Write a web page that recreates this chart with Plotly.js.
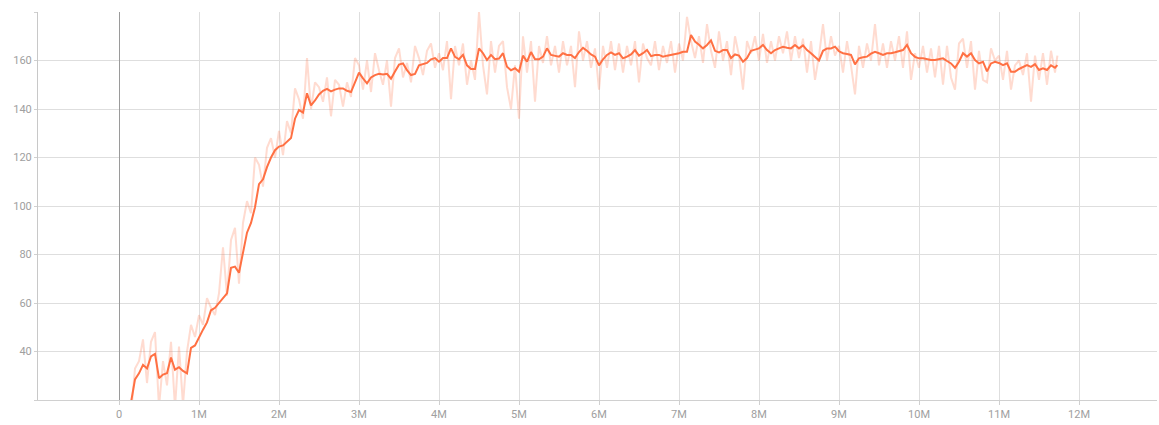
<!DOCTYPE html>
<html>
<head>
<meta charset="utf-8">
<script src="https://cdn.plot.ly/plotly-3.0.1.min.js"></script>
<style>
  html, body { margin: 0; padding: 0; background: #fff; }
  #chart { width: 1159px; height: 425px; }
</style>
</head>
<body>
<div id="chart"></div>
<script>
// Training steps, in millions
const stepsM = [
  0.15, 0.20, 0.25, 0.30, 0.35, 0.40, 0.45, 0.50, 0.55, 0.60, 0.65, 0.70, 0.75, 0.80, 0.85, 0.90, 0.95,
  1.00, 1.05, 1.10, 1.15, 1.20, 1.25, 1.30, 1.35, 1.40, 1.45, 1.50, 1.55, 1.60, 1.65, 1.70, 1.75, 1.80, 1.85, 1.90, 1.95,
  2.00, 2.05, 2.10, 2.15, 2.20, 2.25, 2.30, 2.35, 2.40, 2.45, 2.50, 2.55, 2.60, 2.65, 2.70, 2.75, 2.80, 2.85, 2.90, 2.95,
  3.00, 3.05, 3.10, 3.15, 3.20, 3.25, 3.30, 3.35, 3.40, 3.45, 3.50, 3.55, 3.60, 3.65, 3.70, 3.75, 3.80, 3.85, 3.90, 3.95,
  4.00, 4.05, 4.10, 4.15, 4.20, 4.25, 4.30, 4.35, 4.40, 4.45, 4.50, 4.55, 4.60, 4.65, 4.70, 4.75, 4.80, 4.85, 4.90, 4.95,
  5.00, 5.05, 5.10, 5.15, 5.20, 5.25, 5.30, 5.35, 5.40, 5.45, 5.50, 5.55, 5.60, 5.65, 5.70, 5.75, 5.80, 5.85, 5.90, 5.95,
  6.00, 6.05, 6.10, 6.15, 6.20, 6.25, 6.30, 6.35, 6.40, 6.45, 6.50, 6.55, 6.60, 6.65, 6.70, 6.75, 6.80, 6.85, 6.90, 6.95,
  7.00, 7.05, 7.10, 7.15, 7.20, 7.25, 7.30, 7.35, 7.40, 7.45, 7.50, 7.55, 7.60, 7.65, 7.70, 7.75, 7.80, 7.85, 7.90, 7.95,
  8.00, 8.05, 8.10, 8.15, 8.20, 8.25, 8.30, 8.35, 8.40, 8.45, 8.50, 8.55, 8.60, 8.65, 8.70, 8.75, 8.80, 8.85, 8.90, 8.95,
  9.00, 9.05, 9.10, 9.15, 9.20, 9.25, 9.30, 9.35, 9.40, 9.45, 9.50, 9.55, 9.60, 9.65, 9.70, 9.75, 9.80, 9.85, 9.90, 9.95,
  10.00, 10.05, 10.10, 10.15, 10.20, 10.25, 10.30, 10.35, 10.40, 10.45, 10.50, 10.55, 10.60, 10.65, 10.70, 10.75, 10.80, 10.85, 10.90, 10.95,
  11.00, 11.05, 11.10, 11.15, 11.20, 11.25, 11.30, 11.35, 11.40, 11.45, 11.50, 11.55, 11.60, 11.65, 11.70, 11.73
];

// Raw episode reward
const rawReward = [
  14, 33, 36, 45, 27, 44, 48, 17, 36, 26, 44, 17, 42, 18, 40, 51, 46,
  55, 51, 62, 58, 55, 64, 83, 63, 86, 91, 68, 93, 102, 97, 120, 117, 108, 124, 128, 120,
  131, 121, 135, 130, 148.5, 144, 136, 161, 140, 151, 149, 143, 153, 137, 152, 150, 141, 151, 145, 161,
  158, 148, 160, 147, 163, 156, 150, 160, 141, 161, 165, 153, 159, 151, 166, 161, 154, 164, 167, 157,
  163, 156, 168, 144, 166, 158, 167, 150, 160, 152, 180, 158, 146, 168, 155, 166, 168, 149, 140, 158,
  136, 170, 155, 168, 143, 166, 159, 170, 158, 166, 155, 168, 158, 166, 149, 172, 160, 168, 157, 165,
  148, 166, 157, 168, 156, 167, 155, 166, 158, 168, 151, 167, 161, 158, 168, 156, 166, 159, 168, 155,
  167, 160, 178, 168, 161, 170, 159, 175, 164, 157, 172, 160, 168, 154, 170, 162, 148, 168, 163, 170,
  160, 171, 159, 168, 160, 170, 163, 172, 160, 170, 161, 169, 155, 168, 152, 162, 175, 160, 170, 162,
  166, 155, 168, 158, 146, 166, 157, 167, 160, 175, 158, 167, 157, 168, 160, 170, 157, 172, 152, 163,
  157, 166, 155, 165, 153, 166, 150, 166, 153, 148, 167, 169, 157, 168, 148, 164, 152, 151, 165, 160,
  162, 152, 164, 148, 158, 160, 154, 163, 143, 162, 152, 163, 150, 164, 155, 162
];

// Smoothed episode reward
const smoothReward = [
  19, 28.5, 31, 34.5, 33, 38, 39, 29, 30.5, 31, 37.5, 32.5, 33.5, 32, 31, 41.5, 42.5,
  46, 49, 52, 57, 58, 60, 62, 64, 74.5, 75, 72.5, 81, 89, 93, 99.5, 109, 111, 116, 120, 123,
  124.5, 125, 126.5, 128, 136, 139.6, 138.5, 146.5, 141.5, 143.5, 146, 147.5, 148.3, 147.3, 148, 148.5, 148.5, 147.5, 147, 151,
  155, 152.6, 150.6, 153, 154, 154.5, 154.2, 154.5, 152.5, 155.5, 158.3, 158.8, 156, 154, 154.5, 158, 158.5, 159, 160.5, 161,
  159.5, 161, 161, 165, 161.5, 160.5, 162.3, 158, 156.5, 156.5, 165, 163, 160.2, 162.3, 160.5, 160.8, 163, 157.4, 156, 156.8,
  155.4, 162, 159.5, 163.5, 160.5, 160.5, 161.6, 165, 162.3, 162, 161.6, 163, 162.3, 162.3, 161, 163.5, 165.2, 164, 162.5, 161.6,
  158, 160.5, 162.3, 163.3, 162.3, 163, 160.9, 161.6, 162.5, 164.3, 162, 163, 164.3, 161.8, 162.3, 162.3, 161.6, 162, 162.3, 162.8,
  163, 163.6, 163.6, 170.5, 167.8, 166.5, 165, 166.4, 168.3, 164, 163.3, 164.3, 164.3, 161, 162.5, 162, 159.5, 161, 164, 164.5,
  165, 166.4, 164.3, 163, 164.3, 165, 165.7, 165.3, 165, 166.4, 165, 166.2, 164.3, 163, 161.5, 160, 164, 165, 165, 165.7,
  163.8, 163, 162.7, 162.3, 158.4, 160.9, 161.3, 161.6, 162.8, 163.6, 163, 162.3, 163, 163, 163.4, 164, 164.3, 166.4, 163, 161.5,
  160.9, 160.9, 160.5, 160.2, 160.2, 160.5, 160.9, 159.8, 158.8, 157, 159.5, 163, 161.6, 163, 160.2, 158.8, 159.5, 155.5, 158.8, 159.5,
  159, 158.1, 158.8, 155.4, 155.4, 156.5, 157.4, 158.1, 157.4, 158.5, 156.1, 156.8, 156.1, 158, 157, 158.1
];

const xTicks = [0, 1e6, 2e6, 3e6, 4e6, 5e6, 6e6, 7e6, 8e6, 9e6, 10e6, 11e6, 12e6];
const xTickLabels = ['0', '1M', '2M', '3M', '4M', '5M', '6M', '7M', '8M', '9M', '10M', '11M', '12M'];
const yTicks = [20, 40, 60, 80, 100, 120, 140, 160, 180];
const yTickLabels = ['', '40', '60', '80', '100', '120', '140', '160', ''];

const steps = stepsM.map(s => s * 1e6);
const accent = '#ff7043';

const traces = [
  {
    x: steps, y: rawReward, type: 'scatter', mode: 'lines',
    line: { color: 'rgba(255,112,67,0.25)', width: 2 },
    hoverinfo: 'skip', showlegend: false
  },
  {
    x: steps, y: smoothReward, type: 'scatter', mode: 'lines',
    line: { color: accent, width: 2 },
    hoverinfo: 'skip', showlegend: false
  }
];

const tickFont = { family: 'Roboto, "Open Sans", sans-serif', size: 11, color: '#a0a0a0' };

const layout = {
  width: 1159, height: 425,
  margin: { l: 38, r: 2, t: 12, b: 25, pad: 0 },
  paper_bgcolor: '#fff', plot_bgcolor: '#fff',
  showlegend: false,
  hovermode: false,
  xaxis: {
    range: [-1.0125e6, 12.975e6],
    tickvals: xTicks, ticktext: xTickLabels,
    showgrid: true, gridcolor: '#dedede', gridwidth: 1,
    zeroline: true, zerolinecolor: '#9a9a9a', zerolinewidth: 1,
    showline: true, linecolor: '#d0d0d0', linewidth: 1,
    ticks: 'outside', ticklen: 4, tickcolor: '#d0d0d0',
    tickfont: tickFont, fixedrange: true
  },
  yaxis: {
    range: [20, 180],
    tickvals: yTicks, ticktext: yTickLabels,
    showgrid: true, gridcolor: '#dedede', gridwidth: 1,
    zeroline: false,
    showline: true, linecolor: '#c8c8c8', linewidth: 1,
    ticks: 'outside', ticklen: 3, tickcolor: '#d0d0d0',
    tickfont: tickFont, fixedrange: true
  }
};

Plotly.newPlot('chart', traces, layout, { displayModeBar: false, staticPlot: true });
</script>
</body>
</html>
